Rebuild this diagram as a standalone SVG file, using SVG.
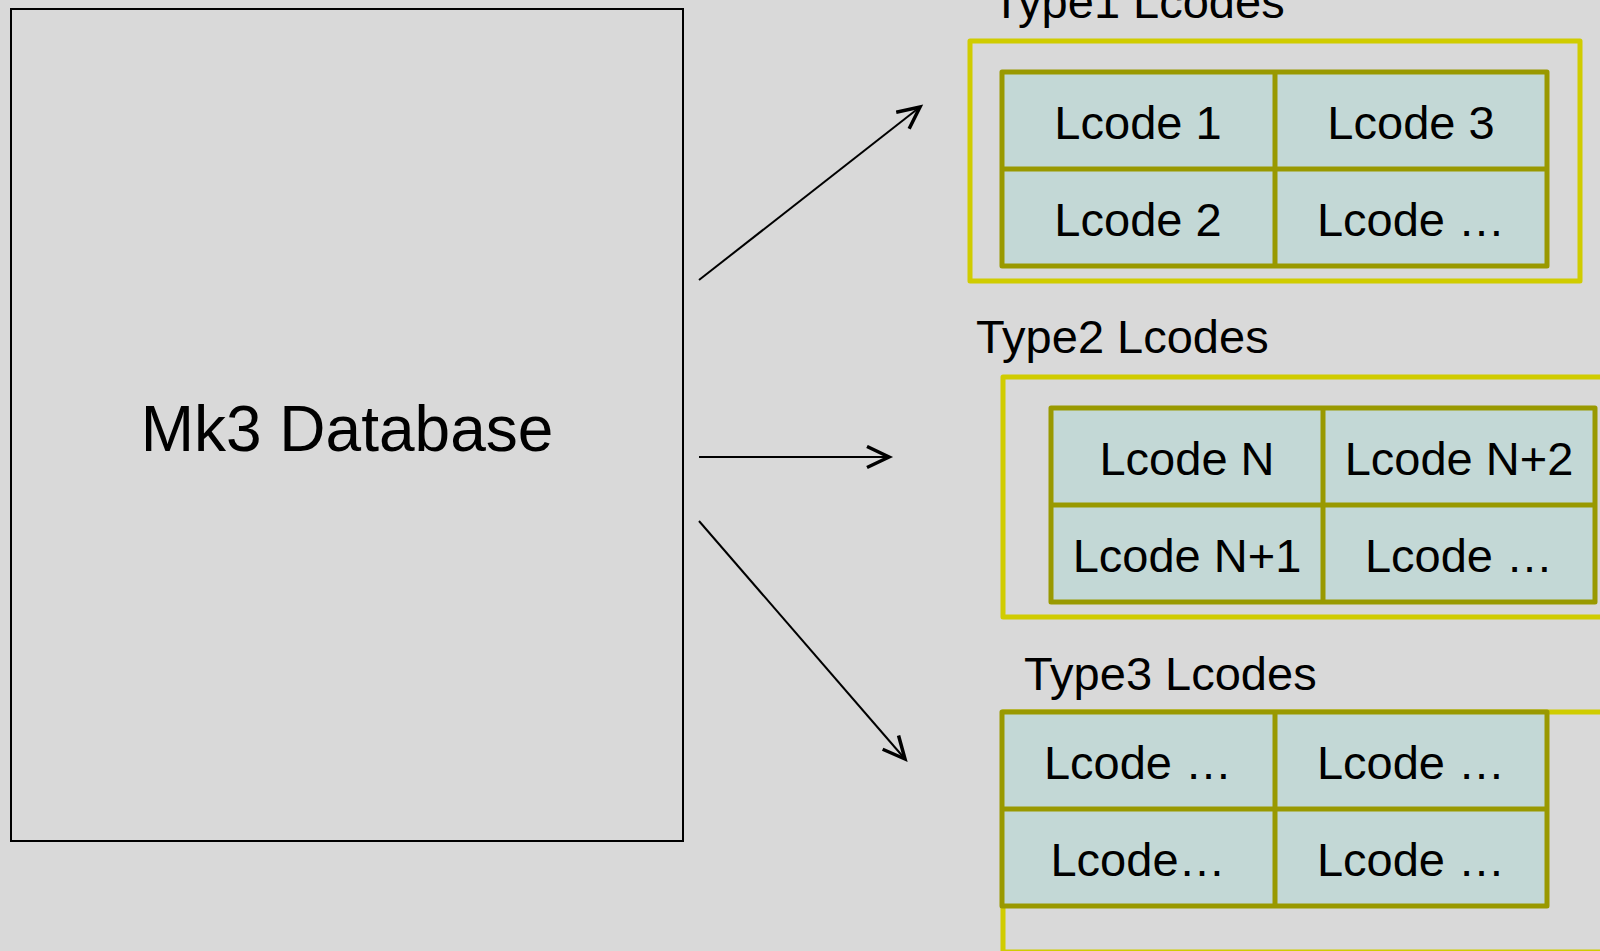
<svg xmlns="http://www.w3.org/2000/svg" width="1600" height="951" viewBox="0 0 1600 951">
  <defs>
    <marker id="arrowhead" markerUnits="userSpaceOnUse" markerWidth="30" markerHeight="30" refX="24" refY="12" orient="auto">
      <polyline points="2,1.5 24,12 2,22.5" fill="none" stroke="#000" stroke-width="3.5"/>
    </marker>
    <style>
      .bg { fill: #d9d9d9; }
      .db { fill: none; stroke: #000; stroke-width: 2; }
      .group { fill: none; stroke: #d0cc00; stroke-width: 5; stroke-linejoin: round; }
      .cell { fill: #c3d8d6; stroke: #999900; stroke-width: 5; stroke-linejoin: round; }
      .grid { stroke: #999900; stroke-width: 5; }
      .title { font-family: "Liberation Sans", Arial, sans-serif; font-size: 47px; fill: #000; }
      .lbl { font-family: "Liberation Sans", Arial, sans-serif; font-size: 47px; fill: #000; text-anchor: middle; }
      .big { font-family: "Liberation Sans", Arial, sans-serif; font-size: 64px; fill: #000; text-anchor: middle; }
      .conn { fill: none; stroke: #000; stroke-width: 2; marker-end: url(#arrowhead); }
    </style>
  </defs>

  <rect class="bg" x="0" y="0" width="1600" height="951"/>

  <!-- source database -->
  <g id="mk3-database">
    <rect class="db" x="11" y="9" width="672" height="832"/>
    <text class="big" x="347" y="451">Mk3 Database</text>
  </g>

  <!-- connectors -->
  <g id="connectors">
    <line class="conn" x1="699" y1="280" x2="920" y2="107"/>
    <line class="conn" x1="699" y1="457" x2="889" y2="457"/>
    <line class="conn" x1="699" y1="521" x2="905" y2="759"/>
  </g>

  <!-- Type1 group -->
  <g id="type1-lcodes">
    <text class="title" x="992" y="18">Type1 Lcodes</text>
    <rect class="group" x="970" y="41" width="610" height="240"/>
    <rect class="cell" x="1002" y="72" width="545" height="194"/>
    <line class="grid" x1="1275" y1="72" x2="1275" y2="266"/>
    <line class="grid" x1="1002" y1="169" x2="1547" y2="169"/>
    <text class="lbl" x="1138" y="139">Lcode 1</text>
    <text class="lbl" x="1411" y="139">Lcode 3</text>
    <text class="lbl" x="1138" y="236">Lcode 2</text>
    <text class="lbl" x="1411" y="236">Lcode …</text>
  </g>

  <!-- Type2 group -->
  <g id="type2-lcodes">
    <text class="title" x="976" y="353">Type2 Lcodes</text>
    <rect class="group" x="1003" y="377" width="620" height="240"/>
    <rect class="cell" x="1051" y="408" width="544" height="194"/>
    <line class="grid" x1="1323" y1="408" x2="1323" y2="602"/>
    <line class="grid" x1="1051" y1="505" x2="1595" y2="505"/>
    <text class="lbl" x="1187" y="475">Lcode N</text>
    <text class="lbl" x="1459" y="475">Lcode N+2</text>
    <text class="lbl" x="1187" y="572">Lcode N+1</text>
    <text class="lbl" x="1459" y="572">Lcode …</text>
  </g>

  <!-- Type3 group -->
  <g id="type3-lcodes">
    <text class="title" x="1024" y="690">Type3 Lcodes</text>
    <rect class="group" x="1003" y="712" width="620" height="240"/>
    <rect class="cell" x="1002" y="712" width="545" height="194"/>
    <line class="grid" x1="1275" y1="712" x2="1275" y2="906"/>
    <line class="grid" x1="1002" y1="809" x2="1547" y2="809"/>
    <text class="lbl" x="1138" y="779">Lcode …</text>
    <text class="lbl" x="1411" y="779">Lcode …</text>
    <text class="lbl" x="1138" y="876">Lcode…</text>
    <text class="lbl" x="1411" y="876">Lcode …</text>
  </g>
</svg>
